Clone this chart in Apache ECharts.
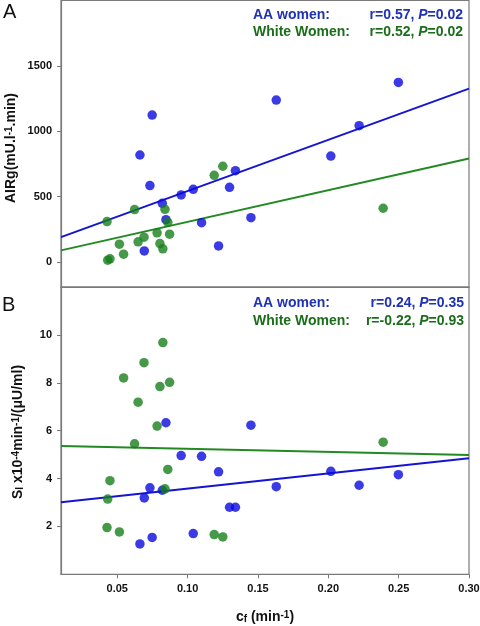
<!DOCTYPE html>
<html><head><meta charset="utf-8">
<script src="https://cdn.jsdelivr.net/npm/echarts@6/dist/echarts.min.js"></script>
<style>html,body{margin:0;padding:0;background:#fff}#c{width:480px;height:626px}</style>
</head><body><div id="c"></div>
<script>
// AA women (blue)
const aaCf   = [0.0661,0.0692,0.0732,0.0748,0.082,0.0846,0.0954,0.104,0.1099,0.122,0.1298,0.134,0.145,0.163,0.2018,0.2219,0.2498];
const aaAIRg = [819,86,585,1124,450,325,514,557,302,124,572,699,340,1239,811,1043,1374];
const aaSI   = [1.27,3.19,3.61,1.54,3.51,6.33,4.96,1.70,4.93,4.28,2.80,2.80,6.23,3.66,4.30,3.72,4.16];
// White women (green)
const whCf   = [0.0427,0.0432,0.0448,0.0515,0.0545,0.0623,0.0648,0.069,0.0783,0.0803,0.0824,0.0839,0.0859,0.0872,0.1189,0.125,0.239];
const whAIRg = [310,15,25,137,61,402,155,191,224,142,102,404,305,214,664,733,412];
const whSI   = [1.95,3.14,3.91,1.77,8.20,5.45,7.19,8.84,6.19,7.84,9.68,3.57,4.38,8.02,1.66,1.56,5.52];
// regression line endpoints
const lineX     = [0.01, 0.30];
const aaAIRgFit = [191, 1326];
const whAIRgFit = [90, 792];
const aaSIFit   = [3.01, 4.85];
const whSIFit   = [5.36, 4.98];
// ticks
const airgTicks = [0, 500, 1000, 1500];
const siTicks   = [2, 4, 6, 8, 10];
const cfTicks   = [0.05, 0.10, 0.15, 0.20, 0.25, 0.30];
const statsA = {aa:['0.57','0.02'], wh:['0.52','0.02']};
const statsB = {aa:['0.24','0.35'], wh:['-0.22','0.93']};

const BLUE='#0a0ae0', GREEN='#17801a', BLUE_T='#1f31b5', GREEN_T='#1a6e1a', LBLUE='#1414d2', LGREEN='#238a23';
const AX='#7a7a7a';
const FF='"Liberation Sans", Arial, sans-serif';
const zip=(a,b)=>a.map((v,i)=>[v,b[i]]);

const chart = echarts.init(document.getElementById('c'), null, {renderer:'canvas'});
const lblStyle = {fontFamily:FF, fontWeight:'bold', fontSize:11, color:'#111'};
const rich = {
  sup:{fontFamily:FF,fontWeight:'bold',fontSize:10,verticalAlign:'top',fill:'#111',color:'#111'},
  sub:{fontFamily:FF,fontWeight:'bold',fontSize:10,verticalAlign:'bottom',fill:'#111',color:'#111'},
  n:{fontFamily:FF,fontWeight:'bold',fontSize:14,fill:'#111',color:'#111'}
};
function statText(x,y,str,color,align){
  return {type:'text', x:x, y:y, style:{text:str, fill:color, font:'bold 14px '+FF, align:align, verticalAlign:'middle',
    rich:{i:{fontFamily:FF,fontWeight:'bold',fontStyle:'italic',fontSize:14,fill:color}}}};
}
chart.setOption({
  animation:false,
  grid:[
    {left:61, right:11, top:0.5, height:286.5, show:true, borderColor:AX, borderWidth:1.2, backgroundColor:'transparent', outerBoundsMode:'none', containLabel:false},
    {left:61, right:11, top:287, height:287.3, show:true, borderColor:AX, borderWidth:1.2, backgroundColor:'transparent', outerBoundsMode:'none', containLabel:false}
  ],
  xAxis:[
    {type:'value', gridIndex:0, min:0.01, max:0.30, axisLine:{show:true,onZero:false,lineStyle:{color:AX,width:1.2}}, axisTick:{show:false}, axisLabel:{show:false}, splitLine:{show:false}},
    {type:'value', gridIndex:1, min:0.01, max:0.30, axisLine:{show:true,onZero:false,lineStyle:{color:AX,width:1.2}},
     axisTick:{show:true, length:4, lineStyle:{color:AX}, customValues:cfTicks},
     axisLabel:Object.assign({margin:9, customValues:cfTicks, formatter:v=>v.toFixed(2)}, lblStyle),
     splitLine:{show:false}}
  ],
  yAxis:[
    {type:'value', gridIndex:0, min:-190, max:2000, axisLine:{show:true,onZero:false,lineStyle:{color:AX,width:1.2}},
     axisTick:{show:true,length:4,lineStyle:{color:AX},customValues:airgTicks},
     axisLabel:Object.assign({margin:9, customValues:airgTicks, formatter:v=>String(v)}, lblStyle), splitLine:{show:false}},
    {type:'value', gridIndex:1, min:0, max:12, axisLine:{show:true,onZero:false,lineStyle:{color:AX,width:1.2}},
     axisTick:{show:true,length:4,lineStyle:{color:AX},customValues:siTicks},
     axisLabel:Object.assign({margin:9, customValues:siTicks, formatter:v=>String(v)}, lblStyle), splitLine:{show:false}}
  ],
  series:[
    {type:'line', xAxisIndex:0, yAxisIndex:0, data:zip(lineX,aaAIRgFit), symbol:'none', lineStyle:{color:LBLUE,width:2}, z:2},
    {type:'line', xAxisIndex:0, yAxisIndex:0, data:zip(lineX,whAIRgFit), symbol:'none', lineStyle:{color:LGREEN,width:2}, z:2},
    {type:'scatter', xAxisIndex:0, yAxisIndex:0, data:zip(aaCf,aaAIRg), symbolSize:9.5, itemStyle:{color:BLUE}, z:3},
    {type:'scatter', xAxisIndex:0, yAxisIndex:0, data:zip(whCf,whAIRg), symbolSize:9.5, itemStyle:{color:GREEN}, z:3},
    {type:'line', xAxisIndex:1, yAxisIndex:1, data:zip(lineX,aaSIFit), symbol:'none', lineStyle:{color:LBLUE,width:2}, z:2},
    {type:'line', xAxisIndex:1, yAxisIndex:1, data:zip(lineX,whSIFit), symbol:'none', lineStyle:{color:LGREEN,width:2}, z:2},
    {type:'scatter', xAxisIndex:1, yAxisIndex:1, data:zip(aaCf,aaSI), symbolSize:9.5, itemStyle:{color:BLUE}, z:3},
    {type:'scatter', xAxisIndex:1, yAxisIndex:1, data:zip(whCf,whSI), symbolSize:9.5, itemStyle:{color:GREEN}, z:3}
  ],
  graphic:[
    {type:'text', x:3, y:12, style:{text:'A', font:'20px '+FF, fill:'#111', verticalAlign:'middle'}},
    {type:'text', x:2, y:305, style:{text:'B', font:'20px '+FF, fill:'#111', verticalAlign:'middle'}},
    statText(253,15,'AA women:',BLUE_T,'left'),
    statText(463,15,'r='+statsA.aa[0]+', {i|P}='+statsA.aa[1],BLUE_T,'right'),
    statText(253,32.5,'White Women:',GREEN_T,'left'),
    statText(463,32.5,'r='+statsA.wh[0]+', {i|P}='+statsA.wh[1],GREEN_T,'right'),
    statText(253,303.5,'AA women:',BLUE_T,'left'),
    statText(464,303.5,'r='+statsB.aa[0]+', {i|P}='+statsB.aa[1],BLUE_T,'right'),
    statText(253,321,'White Women:',GREEN_T,'left'),
    statText(464,321,'r='+statsB.wh[0]+', {i|P}='+statsB.wh[1],GREEN_T,'right'),
    {type:'text', x:11, y:148, rotation:Math.PI/2, style:{text:'{n|AIRg(mU.l}{sup|-1}{n|.min)}', align:'center', verticalAlign:'middle', rich:rich}},
    {type:'text', x:18, y:432, rotation:Math.PI/2, style:{text:'{n|S}{sub|I}{n| x10}{sup|-4}{n|min}{sup|-1}{n|/(μU/ml)}', align:'center', verticalAlign:'middle', rich:rich}},
    {type:'text', x:265, y:617, style:{text:'{n|c}{sub|f}{n| (min}{sup|-1}{n|)}', align:'center', verticalAlign:'middle', rich:rich}}
  ]
});
</script></body></html>
